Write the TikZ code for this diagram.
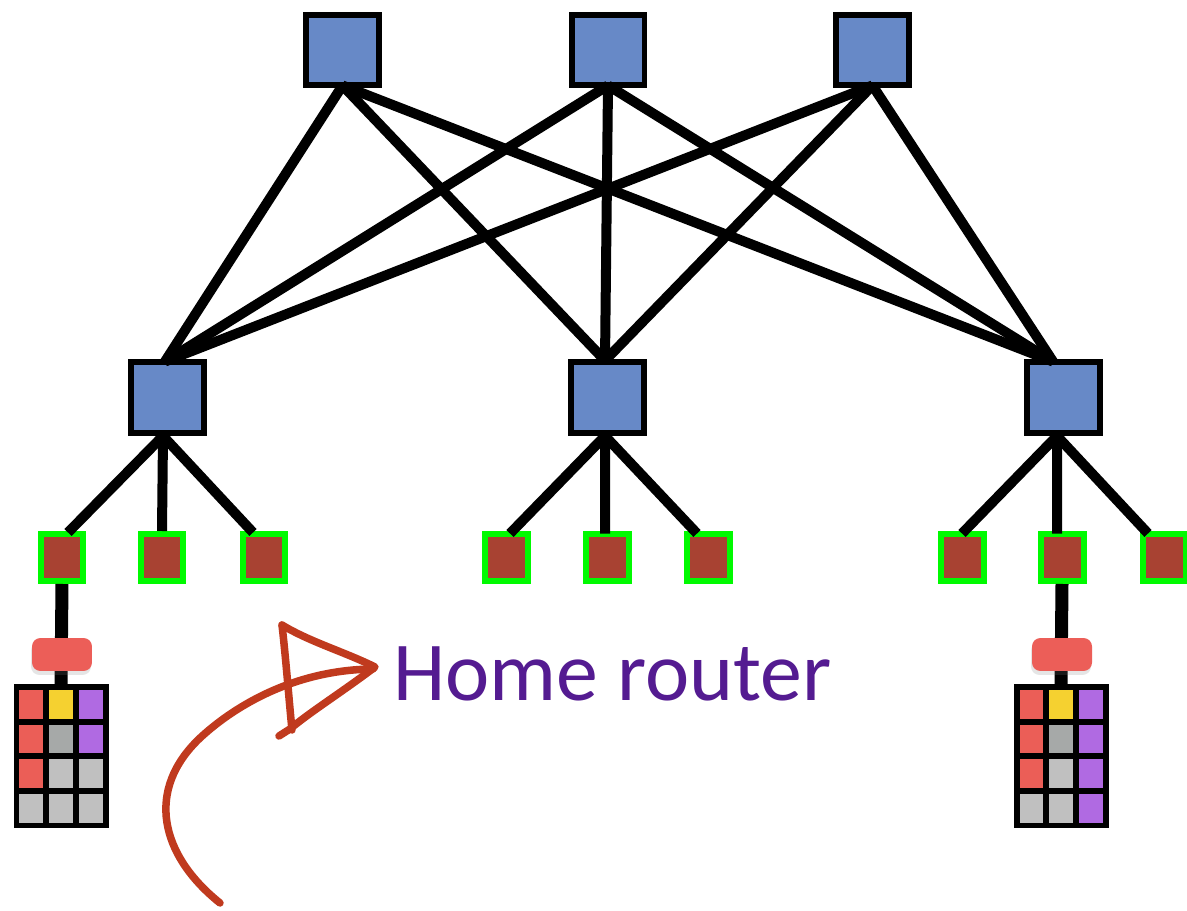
\documentclass[tikz,border=0pt]{standalone}
\usepackage{fontspec}
\setmainfont{Carlito}
\usetikzlibrary{shadows}
\definecolor{swblue}{RGB}{103,137,199}
\definecolor{hostgreen}{RGB}{0,250,0}
\definecolor{hostbrown}{RGB}{168,66,50}
\definecolor{pillred}{RGB}{236,94,88}
\definecolor{cred}{RGB}{235,94,87}
\definecolor{cyel}{RGB}{245,209,48}
\definecolor{cpur}{RGB}{176,106,226}
\definecolor{cdg}{RGB}{166,169,168}
\definecolor{clg}{RGB}{192,192,192}
\definecolor{labelpurple}{RGB}{84,27,145}
\definecolor{sketchred}{RGB}{192,58,30}
\begin{document}
\begin{tikzpicture}[x=0.02cm,y=-0.02cm,
  core/.style={draw=black, line width=0.12cm, fill=swblue, inner sep=0,
    minimum width=1.46cm, minimum height=1.4cm},
  agg/.style={core, minimum height=1.42cm},
  link/.style={draw=black, line width=0.2cm},
  host/.style={draw=hostgreen, line width=0.12cm, fill=hostbrown, inner sep=0,
    minimum width=0.86cm, minimum height=0.94cm,
    drop shadow={shadow xshift=-0.03cm, shadow yshift=-0.07cm, opacity=0.18}},
  uplink/.style={draw=black, line width=0.26cm},
  pill/.style={fill=pillred, rounded corners=0.17cm, inner sep=0,
    minimum width=1.2cm, minimum height=0.66cm,
    drop shadow={shadow xshift=-0.02cm, shadow yshift=-0.08cm, opacity=0.2}},
  cellbox/.style={draw=black, line width=0.12cm},
  gridbox/.style={inner sep=0, minimum width=1.78cm, minimum height=2.76cm},
  sketch/.style={draw=sketchred, line width=0.15cm, line cap=round, line join=round}
]
\useasboundingbox (0,0) rectangle (1187,911);
\fill[white] (0,0) rectangle (1187,911);

% core switches
\node[core] (t1) at (342.5,50) {};
\node[core] (t2) at (608,50) {};
\node[core] (t3) at (872.5,50) {};

% aggregation switches
\node[agg] (m1) at (167.5,397.5) {};
\node[agg] (m2) at (607.5,397.5) {};
\node[agg] (m3) at (1063,397.5) {};

% hosts
\foreach \n/\x in {1/62,2/162,3/264,4/506,5/607,6/708,7/962,8/1062,9/1164}
  \node[host] (g\n) at (\x,557.5) {};

% core-to-aggregation mesh
\foreach \t in {t1,t2,t3} {
  \draw[link] ([yshift=0.05cm]\t.south) -- ([xshift=-0.05cm,yshift=-0.05cm]m1.north);
  \draw[link] ([yshift=0.05cm]\t.south) -- ([xshift=-0.05cm,yshift=-0.03cm]m2.north);
  \draw[link] ([yshift=0.05cm]\t.south) -- ([xshift=-0.2cm,yshift=-0.05cm]m3.north);
}

% aggregation-to-host links
\draw[link] ([xshift=-0.09cm]m1.south) -- ([xshift=0.12cm,yshift=-0.03cm]g1.north);
\draw[link] ([xshift=-0.09cm]m1.south) -- (g2.north);
\draw[link] ([xshift=-0.09cm]m1.south) -- ([xshift=-0.22cm,yshift=-0.03cm]g3.north);
\draw[link] ([xshift=-0.05cm]m2.south) -- ([xshift=0.08cm,yshift=-0.05cm]g4.north);
\draw[link] ([xshift=-0.05cm]m2.south) -- ([xshift=-0.04cm,yshift=-0.05cm]g5.north);
\draw[link] ([xshift=-0.05cm]m2.south) -- ([xshift=-0.22cm,yshift=-0.05cm]g6.north);
\draw[link] ([xshift=-0.12cm]m3.south) -- ([yshift=-0.05cm]g7.north);
\draw[link] ([xshift=-0.12cm]m3.south) -- ([xshift=-0.1cm,yshift=-0.05cm]g8.north);
\draw[link] ([xshift=-0.12cm]m3.south) -- ([xshift=-0.32cm,yshift=-0.05cm]g9.north);

% home networks under two hosts
\node[gridbox] (gridL) at (61,756.5) {};
\node[gridbox] (gridR) at (1061,756.5) {};
\draw[uplink] (g1.south) -- (gridL.north);
\draw[uplink] (g8.south) -- (gridR.north);

\foreach \col [count=\i from 0] in {cred,cyel,cpur,cred,cdg,cpur,cred,clg,clg,clg,clg,clg} {
  \pgfmathtruncatemacro\r{int(\i/3)}
  \pgfmathtruncatemacro\c{mod(\i,3)}
  \filldraw[cellbox, fill=\col] (16.5+\c*29.667,687.5+\r*34.5) rectangle ++(29.667,34.5);
}
\foreach \col [count=\i from 0] in {cred,cyel,cpur,cred,cdg,cpur,cred,clg,cpur,clg,clg,cpur} {
  \pgfmathtruncatemacro\r{int(\i/3)}
  \pgfmathtruncatemacro\c{mod(\i,3)}
  \filldraw[cellbox, fill=\col] (1016.5+\c*29.667,687.5+\r*34.5) rectangle ++(29.667,34.5);
}

% home routers
\node[pill] (rL) at (62,654.5) {};
\node[pill] (rR) at (1062,654.5) {};

% label
\node[anchor=base west, inner sep=0, text=labelpurple,
      font=\fontsize{47.7}{57}\selectfont] (label) at (393,701) {Home router};

% hand-drawn pointer
\draw[sketch] (220,903) .. controls (160,855) and (145,790) .. (200,738)
  .. controls (230,710) and (290,670) .. (373,669);
\draw[sketch] (282,625) .. controls (310,642) and (345,652) .. (375,667)
  .. controls (345,690) and (310,712) .. (290,729) -- (279,736);
\draw[sketch] (282,625) .. controls (286,660) and (289,700) .. (292,730);
\end{tikzpicture}
\end{document}
